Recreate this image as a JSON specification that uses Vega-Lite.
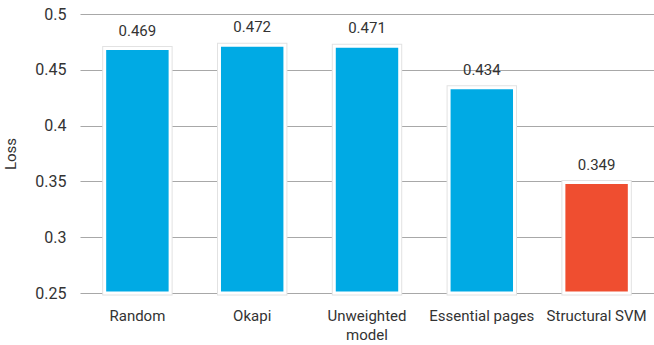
{
  "$schema": "https://vega.github.io/schema/vega-lite/v6.json",
  "width": 574,
  "height": 279,
  "autosize": {"type": "none"},
  "padding": {"left": 80, "top": 14, "right": 0, "bottom": 52},
  "background": "white",
  "config": {
    "view": {"stroke": null},
    "font": "Roboto",
    "axis": {"labelFont": "Roboto", "titleFont": "Roboto", "labelColor": "#333333", "titleColor": "#333333"}
  },
  "data": {
    "values": [
      {"method": "Random", "loss": 0.469, "group": "base"},
      {"method": "Okapi", "loss": 0.472, "group": "base"},
      {"method": "Unweighted model", "loss": 0.471, "group": "base"},
      {"method": "Essential pages", "loss": 0.434, "group": "base"},
      {"method": "Structural SVM", "loss": 0.349, "group": "ours"}
    ]
  },
  "encoding": {
    "x": {
      "field": "method", "type": "nominal", "sort": null,
      "scale": {"paddingInner": 0.43, "paddingOuter": 0.215},
      "axis": {
        "title": null, "labelAngle": 0, "labelFontSize": 15, "labelPadding": 15,
        "domain": false, "ticks": false, "labelLimit": 200, "labelLineHeight": 19,
        "labelExpr": "datum.value == 'Unweighted model' ? ['Unweighted', 'model'] : datum.value"
      }
    },
    "y": {
      "field": "loss", "type": "quantitative",
      "scale": {"domain": [0.25, 0.5], "zero": false, "nice": false},
      "axis": {
        "title": "Loss", "titleFontSize": 15, "titleFontWeight": "normal", "titlePadding": 16,
        "values": [0.25, 0.3, 0.35, 0.4, 0.45, 0.5], "format": ".2~f", "labelFontSize": 16, "labelPadding": 14,
        "domain": false, "ticks": false, "grid": true, "gridColor": "#a8a8a8", "gridWidth": 1.2
      }
    }
  },
  "layer": [
    {
      "mark": {"type": "bar", "stroke": "#e2e2e2", "strokeWidth": 5},
      "encoding": {
        "y2": {"datum": 0.25},
        "color": {"field": "group", "type": "nominal", "scale": {"domain": ["base", "ours"], "range": ["#00AAE4", "#EF4E30"]}, "legend": null}
      }
    },
    {
      "mark": {"type": "bar", "stroke": "white", "strokeWidth": 3},
      "encoding": {
        "y2": {"datum": 0.25},
        "color": {"field": "group", "type": "nominal", "scale": {"domain": ["base", "ours"], "range": ["#00AAE4", "#EF4E30"]}, "legend": null}
      }
    },
    {
      "mark": {"type": "text", "baseline": "bottom", "dy": -10, "fontSize": 15, "color": "#333333"},
      "encoding": {"text": {"field": "loss", "type": "quantitative", "format": ".3f"}}
    }
  ]
}
